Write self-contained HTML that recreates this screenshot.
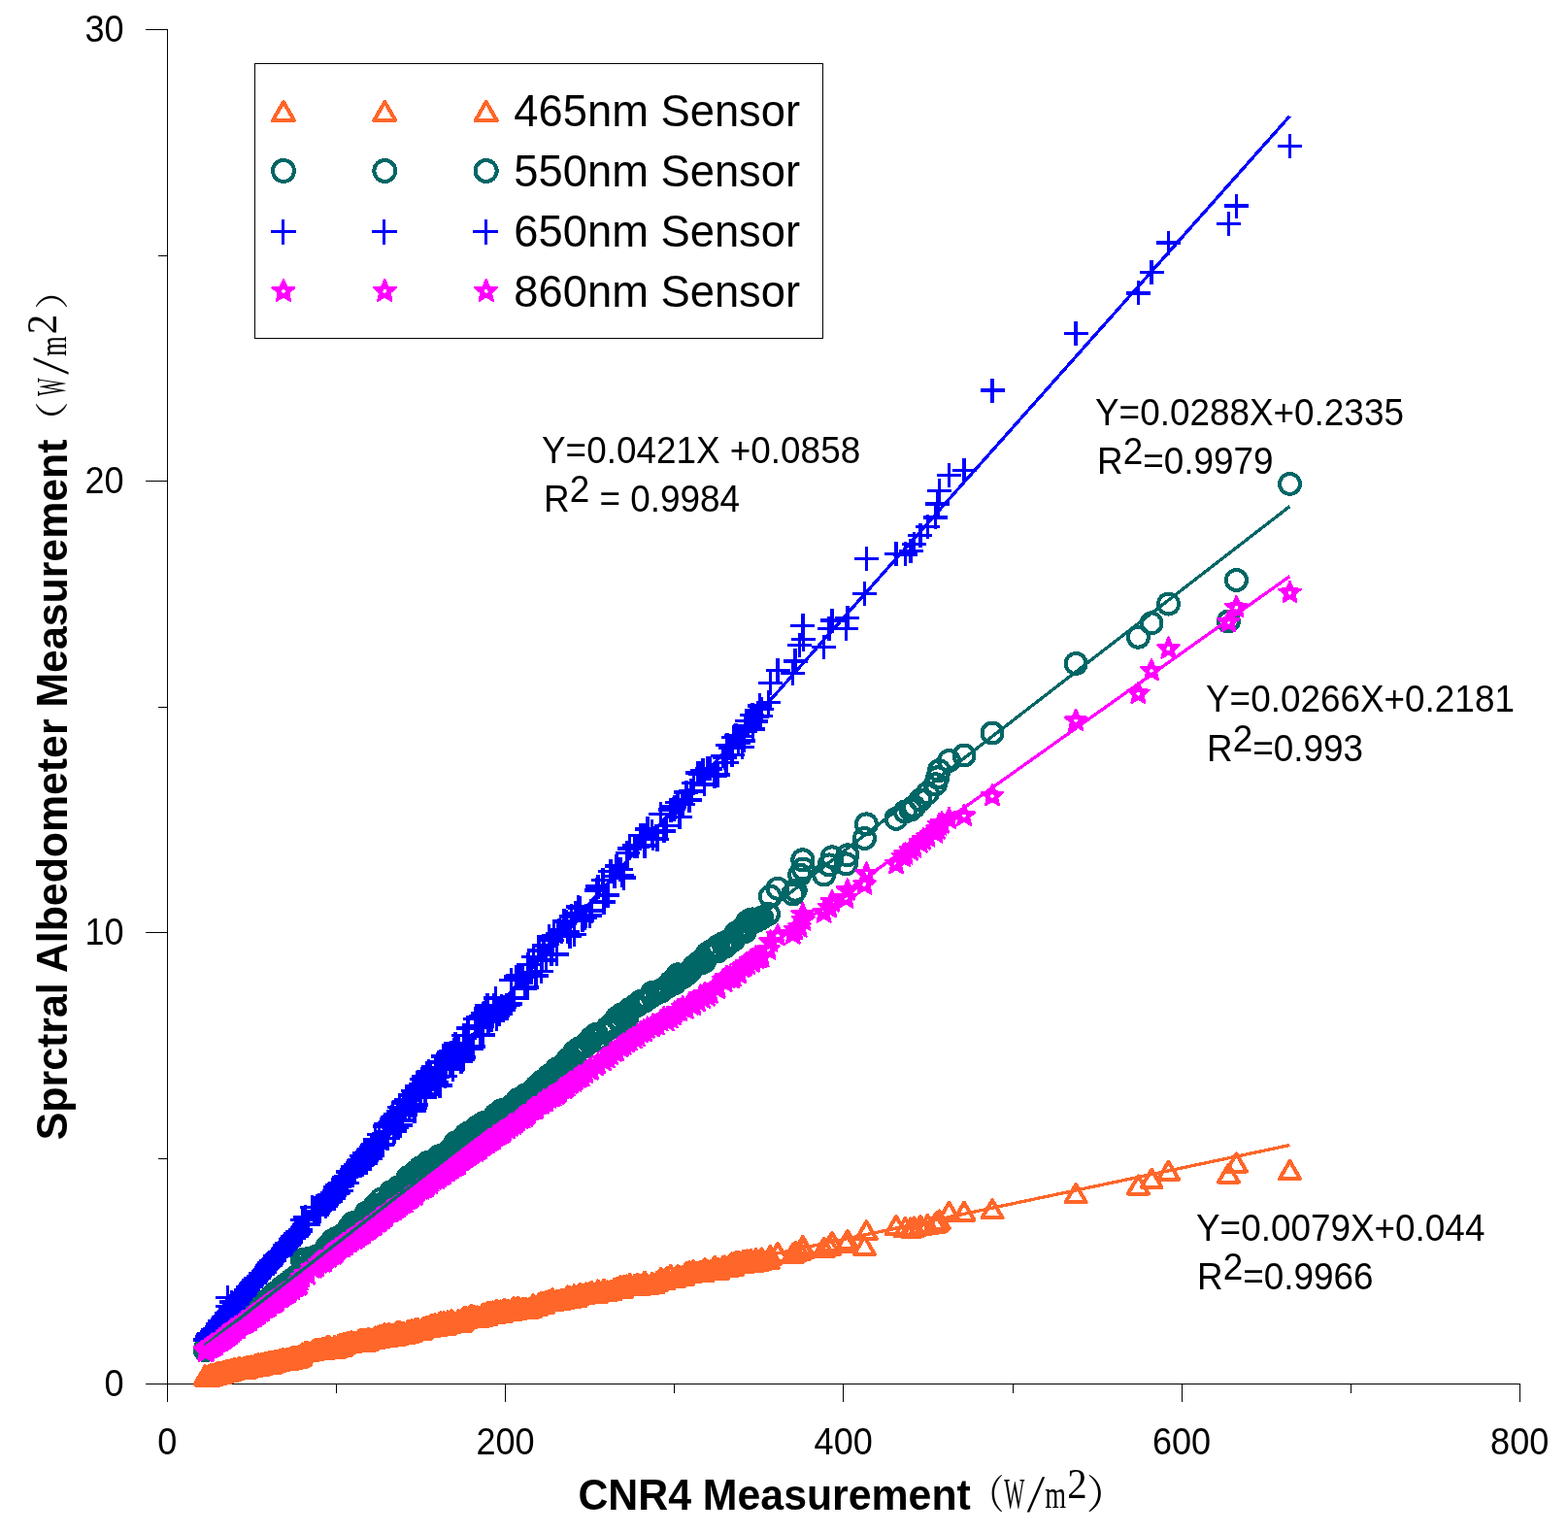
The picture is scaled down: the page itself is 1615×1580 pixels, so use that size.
<!DOCTYPE html>
<html lang="en"><head><meta charset="utf-8"><title>Spectral Albedometer vs CNR4 Measurement</title>
<style>html,body{margin:0;padding:0;background:#fff}svg{display:block}text{font-family:"Liberation Sans",sans-serif;fill:#000}.tk{font-size:37px}.lg{font-size:46px}.eq{font-size:37px}.ti{font-size:43px;font-weight:bold}.un{font-family:"Liberation Serif","Noto Serif CJK SC",serif;font-size:44px;font-weight:normal}.s{fill:none;stroke:none}</style></head><body>
<svg width="1615" height="1580" viewBox="0 0 1615 1580">
<defs>
<marker id="mo" shape-rendering="crispEdges" markerUnits="userSpaceOnUse" markerWidth="30" markerHeight="30" viewBox="-15 -15 30 30" refX="0" refY="0" overflow="visible"><path d="M0,-9L10.5,9H-10.5Z" fill="none" stroke="#FF6629" stroke-width="4" stroke-linejoin="round"/></marker>
<marker id="mt" shape-rendering="crispEdges" markerUnits="userSpaceOnUse" markerWidth="30" markerHeight="30" viewBox="-15 -15 30 30" refX="0" refY="0" overflow="visible"><circle r="10.5" fill="none" stroke="#006666" stroke-width="4"/></marker>
<marker id="mb" shape-rendering="crispEdges" markerUnits="userSpaceOnUse" markerWidth="30" markerHeight="30" viewBox="-15 -15 30 30" refX="0" refY="0" overflow="visible"><path d="M-12.5,0H12.5M0,-12.5V12.5" fill="none" stroke="#0000FF" stroke-width="3.5"/></marker>
<marker id="mm" shape-rendering="crispEdges" markerUnits="userSpaceOnUse" markerWidth="30" markerHeight="30" viewBox="-15 -15 30 30" refX="0" refY="0" overflow="visible"><g><path d="M0.00,-11.70L3.12,-4.29L11.13,-3.62L5.04,1.64L6.88,9.47L0.00,5.30L-6.88,9.47L-5.04,1.64L-11.13,-3.62L-3.12,-4.29ZM0.00,2.20L-2.09,0.68L-1.29,-1.78L1.29,-1.78L2.09,0.68Z" fill="#FF00FF" fill-rule="evenodd"/><path d="M0.00,-11.70L3.12,-4.29L11.13,-3.62L5.04,1.64L6.88,9.47L0.00,5.30L-6.88,9.47L-5.04,1.64L-11.13,-3.62L-3.12,-4.29Z" fill="none" stroke="#FF00FF" stroke-width="2.3" stroke-linejoin="round"/></g></marker>
</defs>
<rect width="1615" height="1580" fill="#fff"/>
<g stroke="#000" stroke-width="1" fill="none" shape-rendering="crispEdges">
<path d="M172.5 30 V1444"/>
<path d="M150 1425.5 H1566"/>
<path d="M172.5 1425 V1444"/>
<path d="M346.5 1425 V1435"/>
<path d="M520.5 1425 V1444"/>
<path d="M694.5 1425 V1435"/>
<path d="M868.5 1425 V1444"/>
<path d="M1043.5 1425 V1435"/>
<path d="M1217.5 1425 V1444"/>
<path d="M1391.5 1425 V1435"/>
<path d="M1565.5 1425 V1444"/>
<path d="M150 1425.5 H173"/>
<path d="M163 1193.5 H173"/>
<path d="M150 960.5 H173"/>
<path d="M163 728.5 H173"/>
<path d="M150 495.5 H173"/>
<path d="M163 263.5 H173"/>
<path d="M150 30.5 H173"/>
</g>
<g shape-rendering="crispEdges">
<polyline class="s" marker-start="url(#mo)" marker-mid="url(#mo)" marker-end="url(#mo)" points="211.3,1416.3 211.7,1417.5 213.0,1418.1 213.3,1417.1 214.1,1418.2 214.7,1417.8 215.7,1416.0 216.1,1417.6 216.8,1415.3 217.7,1415.3 218.5,1415.4 219.0,1416.6 219.9,1416.4 220.5,1415.2 221.7,1415.0 221.7,1414.5 223.1,1415.1 223.4,1415.5 224.2,1413.2 224.6,1413.4 225.8,1414.6 226.1,1414.9 226.9,1412.7 227.4,1414.1 228.3,1414.5 229.5,1414.0 230.2,1411.6 230.8,1413.3 230.9,1411.8 232.3,1413.0 233.0,1411.0 233.6,1411.2 233.9,1412.9 234.6,1412.8 235.5,1411.3 236.6,1411.7 237.1,1412.3 237.9,1410.4 238.2,1411.7 239.1,1411.3 240.0,1410.8 240.8,1409.4 241.5,1409.2 241.8,1409.4 243.0,1410.2 243.2,1409.9 244.3,1409.7 244.9,1410.3 245.3,1409.8 246.3,1408.4 247.0,1408.1 248.0,1408.7 248.1,1409.9 248.9,1410.0 250.2,1409.3 250.8,1409.5 251.0,1409.5 251.8,1407.7 252.7,1408.8 253.1,1409.6 254.0,1408.8 254.5,1407.1 255.7,1407.2 255.9,1407.9 257.3,1408.1 258.0,1407.4 258.6,1406.4 259.3,1407.6 259.7,1408.0 260.6,1407.3 261.4,1407.4 261.9,1406.9 262.3,1406.9 263.4,1405.2 263.9,1405.3 264.9,1405.4 265.4,1406.9 266.5,1404.3 266.7,1406.7 267.8,1405.2 268.5,1406.4 269.1,1404.3 269.5,1404.5 270.2,1403.9 271.5,1403.8 271.7,1403.8 272.4,1403.8 273.2,1403.4 274.1,1403.5 274.8,1403.8 275.1,1403.8 275.8,1403.7 276.9,1402.4 277.4,1402.3 278.4,1402.5 279.2,1402.8 279.4,1404.5 280.4,1402.2 281.1,1402.7 282.1,1403.2 282.9,1401.8 283.2,1401.2 283.8,1402.8 285.0,1401.3 285.1,1400.7 286.0,1401.0 286.8,1402.3 287.3,1400.9 288.4,1400.2 289.0,1399.7 289.5,1400.3 290.4,1401.1 291.3,1399.3 291.7,1399.0 292.2,1400.7 293.2,1401.2 293.8,1401.0 294.8,1400.3 295.2,1400.5 295.9,1398.9 297.1,1400.5 297.4,1400.6 298.1,1398.5 299.0,1398.7 299.8,1400.1 300.5,1399.4 301.3,1397.4 301.6,1399.0 302.5,1397.5 303.1,1398.1 304.0,1396.9 304.7,1396.6 305.5,1397.8 305.8,1398.6 306.7,1396.6 307.7,1398.0 307.9,1396.4 309.1,1396.5 309.8,1396.6 311.3,1393.5 314.6,1392.2 317.1,1392.2 321.7,1391.2 324.1,1389.5 326.5,1389.2 328.9,1388.7 332.3,1388.2 333.9,1389.8 334.7,1387.9 335.6,1387.8 336.9,1386.7 337.0,1386.2 338.6,1388.7 339.2,1386.4 340.4,1389.0 341.2,1387.8 342.3,1387.7 343.9,1389.0 344.7,1385.8 345.8,1388.1 346.1,1388.3 347.3,1387.6 348.8,1385.0 349.0,1385.3 350.2,1384.0 351.1,1387.1 352.8,1386.0 353.2,1383.7 354.4,1383.3 355.0,1384.3 356.1,1383.1 357.5,1382.4 358.8,1381.8 359.3,1382.8 360.3,1382.7 361.0,1382.9 362.1,1381.0 363.1,1382.4 364.2,1382.3 365.6,1382.2 366.4,1381.7 368.0,1382.2 368.3,1382.2 369.9,1381.2 370.1,1379.5 371.5,1378.8 372.5,1381.7 373.7,1379.5 374.4,1378.7 375.5,1381.6 376.8,1378.6 377.2,1380.1 378.5,1380.8 379.6,1377.7 380.8,1379.4 381.2,1379.4 382.4,1378.8 383.0,1378.6 384.7,1379.2 385.9,1377.0 386.4,1376.4 387.8,1377.1 388.7,1376.3 389.0,1376.1 390.5,1377.9 391.0,1375.2 392.3,1374.9 393.8,1376.8 394.1,1376.4 395.6,1376.3 396.1,1373.2 397.1,1376.2 399.0,1376.6 399.1,1375.8 400.2,1372.6 401.9,1376.3 402.3,1375.0 403.2,1373.8 404.1,1376.1 405.5,1375.9 406.1,1373.7 407.2,1375.5 408.2,1372.1 409.7,1371.1 410.2,1374.7 411.6,1370.7 412.2,1373.8 414.0,1372.6 415.0,1371.8 415.9,1374.1 416.9,1373.5 417.6,1372.6 418.9,1373.3 419.6,1373.3 420.2,1370.0 421.7,1369.9 422.8,1370.4 423.0,1372.1 424.2,1369.3 425.8,1369.6 426.8,1369.5 427.6,1368.4 428.1,1367.7 429.3,1367.7 430.3,1368.0 432.6,1369.8 432.9,1369.9 434.5,1368.9 436.2,1367.1 437.5,1366.8 438.7,1366.3 440.1,1367.1 441.7,1365.8 443.1,1366.7 443.4,1364.5 444.6,1364.0 447.1,1364.0 448.4,1363.3 449.0,1366.4 450.4,1365.3 452.1,1364.9 453.1,1361.5 454.0,1361.4 455.5,1362.8 456.9,1361.0 458.5,1364.2 459.3,1364.5 461.4,1360.3 463.0,1363.4 463.6,1361.4 465.2,1359.1 466.6,1361.4 468.1,1361.8 469.2,1361.9 470.4,1361.8 472.0,1359.4 472.4,1361.7 474.9,1361.8 476.2,1359.8 477.2,1356.6 477.9,1356.2 479.8,1356.0 480.3,1357.9 482.1,1357.0 483.2,1356.2 485.0,1354.2 485.9,1354.0 487.0,1354.7 489.3,1355.2 489.9,1356.3 491.6,1355.3 492.2,1357.1 494.3,1355.7 495.9,1356.1 497.2,1353.3 497.9,1354.5 499.0,1352.5 501.0,1354.8 501.9,1351.3 503.2,1351.4 504.4,1351.1 506.0,1351.3 507.7,1350.5 508.6,1353.4 510.3,1349.6 511.7,1348.7 513.1,1351.4 514.1,1350.6 516.0,1349.5 516.7,1351.8 518.1,1348.8 519.5,1348.0 521.9,1350.1 523.4,1349.1 525.8,1349.7 526.3,1350.0 528.8,1346.2 531.4,1348.9 533.5,1345.7 535.7,1347.4 536.5,1347.9 538.6,1346.7 540.8,1347.0 542.8,1347.4 544.2,1347.5 546.8,1346.6 549.3,1343.4 551.5,1345.1 552.5,1345.2 555.2,1342.2 557.5,1341.2 558.3,1341.0 560.0,1342.5 562.3,1339.8 565.4,1339.3 567.8,1339.3 568.8,1337.1 570.6,1339.5 573.3,1339.4 574.6,1339.0 576.1,1338.8 578.5,1338.2 581.2,1337.7 582.9,1337.2 584.7,1334.5 586.8,1334.9 588.3,1336.5 591.5,1333.3 592.7,1336.4 595.4,1333.8 597.1,1331.9 599.8,1332.7 602.4,1332.6 603.4,1331.4 607.4,1330.7 609.1,1329.7 614.4,1332.0 615.9,1328.5 621.1,1330.4 621.9,1327.6 625.8,1329.5 628.8,1329.2 632.8,1327.0 635.1,1326.3 639.0,1323.9 640.4,1326.7 642.7,1323.6 646.0,1323.5 648.6,1322.1 653.7,1322.9 656.6,1322.0 659.9,1323.5 663.0,1321.0 664.0,1319.7 666.9,1323.0 671.7,1320.8 672.7,1322.3 676.8,1319.7 680.6,1316.0 683.8,1318.3 686.7,1315.2 690.8,1313.0 693.9,1316.0 694.9,1315.7 697.9,1313.0 700.1,1314.3 703.2,1314.0 706.9,1310.0 710.2,1309.4 711.9,1310.7 714.3,1308.2 718.8,1309.7 721.6,1309.2 723.9,1310.4 725.7,1306.2 728.7,1307.8 731.7,1308.2 736.1,1303.8 739.2,1307.9 739.5,1306.0 744.8,1303.8 746.6,1303.5 748.2,1304.8 749.0,1304.8 752.1,1301.8 753.6,1300.4 754.2,1304.3 755.8,1300.5 758.2,1299.2 760.3,1299.0 761.1,1299.1 764.5,1301.4 765.8,1297.7 767.3,1298.8 769.1,1297.5 770.1,1299.5 773.1,1296.7 774.8,1299.5 775.3,1299.9 778.5,1296.1 779.5,1299.4 782.3,1297.8 783.0,1297.8 784.6,1295.5 791.4,1297.0 793.4,1293.0 801.0,1290.0 816.7,1291.0 819.2,1289.0 823.6,1288.0 827.3,1286.0 826.8,1283.0 848.6,1285.0 854.2,1283.0 857.0,1279.0 871.4,1280.0 872.9,1277.0 890.4,1282.9 892.4,1267.3 923.0,1262.0 932.4,1264.0 938.0,1264.5 941.5,1263.5 947.9,1262.0 955.4,1261.0 963.5,1259.5 965.8,1258.0 967.3,1256.5 977.5,1247.7 993.0,1247.7 1022.0,1245.3 1108.1,1229.2 1172.4,1220.5 1186.0,1213.8 1203.5,1205.6 1265.4,1208.6 1273.4,1197.5 1328.5,1205.0"/>
<polyline class="s" marker-start="url(#mt)" marker-mid="url(#mt)" marker-end="url(#mt)" points="211.3,1390.8 211.7,1388.7 213.0,1389.3 213.3,1388.9 214.1,1387.6 214.7,1388.1 215.7,1387.2 216.1,1386.3 216.8,1385.8 217.7,1385.0 218.5,1384.2 219.0,1382.8 219.9,1384.0 220.5,1383.6 221.7,1382.3 221.7,1381.5 223.1,1381.3 223.4,1380.6 224.2,1380.6 224.6,1380.0 225.8,1378.3 226.1,1377.1 226.9,1378.2 227.4,1376.7 228.3,1375.5 229.5,1376.5 230.2,1375.5 230.8,1375.0 230.9,1374.5 232.3,1373.4 233.0,1372.8 233.6,1371.4 233.9,1372.9 234.6,1372.1 235.5,1370.2 236.6,1370.8 237.1,1370.5 237.9,1369.8 238.2,1367.9 239.1,1367.3 240.0,1367.3 240.8,1367.2 241.5,1367.1 241.8,1366.8 243.0,1365.4 243.2,1365.8 244.3,1364.9 244.9,1363.2 245.3,1364.0 246.3,1362.2 247.0,1360.6 248.0,1360.8 248.1,1360.2 248.9,1361.2 250.2,1359.2 250.8,1359.7 251.0,1359.3 251.8,1357.4 252.7,1357.6 253.1,1357.9 254.0,1356.6 254.5,1356.9 255.7,1354.3 255.9,1355.6 257.3,1354.3 258.0,1353.2 258.6,1352.7 259.3,1352.1 259.7,1350.4 260.6,1350.2 261.4,1349.5 261.9,1350.6 262.3,1350.0 263.4,1348.6 263.9,1347.7 264.9,1348.6 265.4,1347.0 266.5,1347.4 266.7,1347.3 267.8,1346.0 268.5,1343.7 269.1,1344.3 269.5,1343.3 270.2,1344.0 271.5,1342.6 271.7,1343.4 272.4,1342.7 273.2,1340.9 274.1,1341.4 274.8,1339.7 275.1,1339.5 275.8,1340.0 276.9,1338.5 277.4,1338.2 278.4,1336.8 279.2,1337.3 279.4,1337.3 280.4,1336.2 281.1,1335.0 282.1,1335.2 282.9,1334.7 283.2,1331.7 283.8,1333.9 285.0,1331.1 285.1,1332.4 286.0,1331.1 286.8,1329.7 287.3,1331.1 288.4,1329.3 289.0,1329.3 289.5,1327.3 290.4,1326.1 291.3,1326.7 291.7,1325.0 292.2,1324.9 293.2,1325.2 293.8,1324.0 294.8,1322.7 295.2,1323.1 295.9,1324.4 297.1,1322.5 297.4,1322.2 298.1,1322.1 299.0,1321.8 299.8,1321.1 300.5,1318.1 301.3,1318.8 301.6,1317.7 302.5,1319.2 303.1,1318.7 304.0,1318.0 304.7,1317.3 305.5,1315.7 305.8,1314.5 306.7,1315.5 307.7,1313.0 307.9,1312.9 309.1,1313.8 309.8,1311.6 311.3,1297.5 314.6,1298.9 317.1,1296.5 321.7,1296.9 324.1,1294.7 326.5,1294.5 328.9,1292.9 332.3,1291.9 333.9,1288.8 334.7,1290.6 335.6,1287.0 336.9,1284.3 337.0,1287.0 338.6,1282.4 339.2,1284.6 340.4,1285.1 341.2,1284.9 342.3,1278.0 343.9,1279.3 344.7,1279.2 345.8,1279.6 346.1,1275.5 347.3,1276.8 348.8,1278.7 349.0,1276.9 350.2,1274.4 351.1,1274.0 352.8,1272.9 353.2,1273.8 354.4,1271.0 355.0,1270.6 356.1,1269.9 357.5,1268.5 358.8,1269.9 359.3,1266.5 360.3,1263.6 361.0,1263.4 362.1,1263.9 363.1,1259.8 364.2,1264.3 365.6,1264.4 366.4,1261.4 368.0,1259.1 368.3,1260.8 369.9,1261.4 370.1,1260.2 371.5,1258.2 372.5,1258.5 373.7,1258.1 374.4,1255.5 375.5,1253.3 376.8,1254.2 377.2,1249.2 378.5,1249.4 379.6,1252.2 380.8,1250.5 381.2,1247.3 382.4,1250.6 383.0,1247.7 384.7,1246.3 385.9,1249.1 386.4,1241.4 387.8,1244.0 388.7,1246.2 389.0,1242.3 390.5,1242.6 391.0,1241.8 392.3,1235.3 393.8,1243.1 394.1,1242.6 395.6,1241.2 396.1,1239.6 397.1,1238.0 399.0,1238.8 399.1,1238.9 400.2,1236.1 401.9,1237.1 402.3,1228.0 403.2,1234.7 404.1,1231.8 405.5,1229.6 406.1,1231.0 407.2,1228.0 408.2,1232.1 409.7,1223.0 410.2,1223.0 411.6,1224.6 412.2,1227.8 414.0,1224.8 415.0,1224.1 415.9,1221.0 416.9,1221.4 417.6,1219.3 418.9,1222.0 419.6,1222.9 420.2,1212.6 421.7,1212.5 422.8,1219.0 423.0,1211.3 424.2,1217.2 425.8,1213.8 426.8,1212.9 427.6,1207.1 428.1,1215.5 429.3,1215.5 430.3,1214.2 432.6,1202.9 432.9,1208.2 434.5,1202.1 436.2,1209.9 437.5,1202.2 438.7,1203.3 440.1,1197.6 441.7,1203.5 443.1,1204.0 443.4,1204.4 444.6,1202.5 447.1,1197.0 448.4,1198.8 449.0,1199.4 450.4,1198.5 452.1,1190.8 453.1,1195.6 454.0,1195.9 455.5,1191.1 456.9,1193.4 458.5,1191.0 459.3,1188.2 461.4,1186.7 463.0,1184.7 463.6,1185.2 465.2,1184.9 466.6,1185.6 468.1,1182.9 469.2,1176.9 470.4,1180.3 472.0,1182.8 472.4,1180.1 474.9,1176.5 476.2,1178.8 477.2,1178.2 477.9,1171.3 479.8,1168.7 480.3,1175.2 482.1,1170.3 483.2,1166.6 485.0,1170.3 485.9,1171.7 487.0,1170.1 489.3,1167.7 489.9,1169.0 491.6,1160.5 492.2,1163.4 494.3,1161.8 495.9,1158.6 497.2,1161.2 497.9,1156.7 499.0,1162.0 501.0,1157.3 501.9,1157.2 503.2,1155.8 504.4,1156.8 506.0,1154.2 507.7,1155.4 508.6,1152.3 510.3,1148.4 511.7,1151.7 513.1,1148.4 514.1,1150.1 516.0,1146.3 516.7,1143.7 518.1,1146.3 519.5,1146.0 521.9,1142.3 523.4,1143.0 525.8,1139.9 526.3,1139.4 528.8,1137.7 531.4,1136.4 533.5,1132.4 535.7,1133.3 536.5,1132.1 538.6,1130.2 540.8,1127.9 542.8,1128.4 544.2,1126.8 546.8,1125.5 549.3,1122.8 551.5,1121.5 552.5,1119.1 555.2,1117.1 557.5,1116.6 558.3,1113.6 560.0,1114.7 562.3,1113.1 565.4,1108.0 567.8,1107.8 568.8,1106.0 570.6,1104.2 573.3,1101.1 574.6,1103.1 576.1,1101.8 578.5,1098.1 581.2,1096.2 582.9,1097.1 584.7,1091.2 586.8,1092.4 588.3,1090.1 591.5,1083.7 592.7,1086.5 595.4,1080.6 597.1,1079.5 599.8,1078.9 602.4,1077.8 603.4,1075.9 607.4,1073.5 609.1,1069.3 614.4,1065.1 615.9,1070.5 621.1,1063.4 621.9,1062.6 625.8,1058.7 628.8,1056.2 632.8,1057.5 635.1,1048.5 639.0,1052.8 640.4,1044.9 642.7,1047.2 646.0,1047.6 648.6,1039.4 653.7,1036.0 656.6,1035.4 659.9,1031.4 663.0,1031.5 664.0,1031.1 666.9,1028.8 671.7,1022.4 672.7,1025.0 676.8,1021.7 680.6,1021.3 683.8,1018.6 686.7,1016.9 690.8,1011.8 693.9,1010.7 694.9,1012.7 697.9,1003.8 700.1,1004.2 703.2,1006.7 706.9,1003.8 710.2,1000.9 711.9,998.9 714.3,996.0 718.8,991.9 721.6,992.1 723.9,988.1 725.7,990.2 728.7,981.9 731.7,980.2 736.1,979.5 739.2,979.8 739.5,974.8 744.8,971.7 746.6,975.1 748.2,973.7 749.0,970.1 752.1,968.5 753.6,968.3 754.2,968.3 755.8,968.1 758.2,960.9 760.3,962.3 761.1,961.8 764.5,958.8 765.8,955.5 767.3,959.5 769.1,954.2 770.1,949.1 773.1,947.3 774.8,946.9 775.3,949.9 778.5,948.5 779.5,948.1 782.3,946.7 783.0,946.5 784.6,945.2 791.4,941.5 793.4,923.3 801.0,915.2 816.7,921.0 819.2,917.2 823.6,901.0 827.3,895.0 826.8,885.8 848.6,901.0 854.2,890.9 857.0,882.8 871.4,889.9 872.9,880.8 890.4,863.5 892.4,848.9 923.0,843.3 932.4,836.0 938.0,834.0 941.5,831.0 947.9,824.0 955.4,817.0 963.5,807.8 965.8,800.8 967.3,793.7 977.5,783.5 993.0,778.0 1022.0,755.0 1108.1,683.5 1172.4,656.2 1186.0,641.8 1203.5,622.0 1265.4,640.0 1273.4,597.5 1328.5,498.5"/>
<polyline class="s" marker-start="url(#mb)" marker-mid="url(#mb)" marker-end="url(#mb)" points="211.3,1379.3 211.7,1380.1 213.0,1377.2 213.3,1378.5 214.1,1376.9 214.7,1375.2 215.7,1374.1 216.1,1374.2 216.8,1373.8 217.7,1373.6 218.5,1372.0 219.0,1370.4 219.9,1369.5 220.5,1370.3 221.7,1368.5 221.7,1368.5 223.1,1367.1 223.4,1366.4 224.2,1366.1 224.6,1364.2 225.8,1363.9 226.1,1363.6 226.9,1360.9 227.4,1360.8 228.3,1360.9 229.5,1359.1 230.2,1358.5 230.8,1357.9 230.9,1357.0 232.3,1355.8 233.0,1355.2 233.6,1355.0 233.9,1352.7 234.6,1353.8 235.5,1351.4 236.6,1350.6 237.1,1349.2 237.9,1349.7 238.2,1349.6 239.1,1348.4 240.0,1346.5 240.8,1345.7 241.5,1343.5 241.8,1342.9 243.0,1343.2 243.2,1341.5 244.3,1342.1 244.9,1339.7 245.3,1339.4 246.3,1337.9 247.0,1338.1 248.0,1335.6 248.1,1335.6 248.9,1335.2 250.2,1333.6 250.8,1332.6 251.0,1333.9 251.8,1331.7 252.7,1332.0 253.1,1329.2 254.0,1328.5 254.5,1328.4 255.7,1328.7 255.9,1325.6 257.3,1324.4 258.0,1325.7 258.6,1322.8 259.3,1322.0 259.7,1323.0 260.6,1320.3 261.4,1319.0 261.9,1319.0 262.3,1321.0 263.4,1317.0 263.9,1318.9 264.9,1317.4 265.4,1316.4 266.5,1315.9 266.7,1315.8 267.8,1314.7 268.5,1311.5 269.1,1311.7 269.5,1312.6 270.2,1312.3 271.5,1309.9 271.7,1310.0 272.4,1309.9 273.2,1307.6 274.1,1305.5 274.8,1306.6 275.1,1303.5 275.8,1305.1 276.9,1302.4 277.4,1300.9 278.4,1303.0 279.2,1301.5 279.4,1299.0 280.4,1299.7 281.1,1297.8 282.1,1298.6 282.9,1296.8 283.2,1294.7 283.8,1293.9 285.0,1293.4 285.1,1292.3 286.0,1291.6 286.8,1293.6 287.3,1290.3 288.4,1292.0 289.0,1291.0 289.5,1290.4 290.4,1288.6 291.3,1288.6 291.7,1286.5 292.2,1285.6 293.2,1286.6 293.8,1282.7 294.8,1283.1 295.2,1281.7 295.9,1280.3 297.1,1281.8 297.4,1280.3 298.1,1280.1 299.0,1277.2 299.8,1278.9 300.5,1275.6 301.3,1274.5 301.6,1274.2 302.5,1275.2 303.1,1272.7 304.0,1271.7 304.7,1270.5 305.5,1273.4 305.8,1272.1 306.7,1268.8 307.7,1268.4 307.9,1269.9 309.1,1266.9 309.8,1268.7 311.3,1256.3 314.6,1253.5 317.1,1260.9 321.7,1243.3 324.1,1248.2 326.5,1249.1 328.9,1247.3 332.3,1240.5 333.9,1237.0 334.7,1234.1 335.6,1242.7 336.9,1240.6 337.0,1231.6 338.6,1238.6 339.2,1230.5 340.4,1235.7 341.2,1234.3 342.3,1229.1 343.9,1234.0 344.7,1230.8 345.8,1222.5 346.1,1227.9 347.3,1229.3 348.8,1227.8 349.0,1222.6 350.2,1218.3 351.1,1226.3 352.8,1221.2 353.2,1215.0 354.4,1213.1 355.0,1218.6 356.1,1212.1 357.5,1218.6 358.8,1206.8 359.3,1207.7 360.3,1208.4 361.0,1207.3 362.1,1205.2 363.1,1202.1 364.2,1203.2 365.6,1207.7 366.4,1199.7 368.0,1197.4 368.3,1198.6 369.9,1200.4 370.1,1194.5 371.5,1200.6 372.5,1190.7 373.7,1199.6 374.4,1192.7 375.5,1187.4 376.8,1197.8 377.2,1195.1 378.5,1189.4 379.6,1184.5 380.8,1186.1 381.2,1193.7 382.4,1181.4 383.0,1189.0 384.7,1178.6 385.9,1181.8 386.4,1173.4 387.8,1176.3 388.7,1179.0 389.0,1179.4 390.5,1168.3 391.0,1179.7 392.3,1178.9 393.8,1179.1 394.1,1178.5 395.6,1167.7 396.1,1160.0 397.1,1158.1 399.0,1165.5 399.1,1172.6 400.2,1158.0 401.9,1156.4 402.3,1156.1 403.2,1153.1 404.1,1150.6 405.5,1161.4 406.1,1165.1 407.2,1160.3 408.2,1161.7 409.7,1148.2 410.2,1144.9 411.6,1140.5 412.2,1159.1 414.0,1154.2 415.0,1143.5 415.9,1136.1 416.9,1134.4 417.6,1140.5 418.9,1132.9 419.6,1132.5 420.2,1132.7 421.7,1143.6 422.8,1127.8 423.0,1127.7 424.2,1138.8 425.8,1123.7 426.8,1144.3 427.6,1141.2 428.1,1137.9 429.3,1118.6 430.3,1118.4 432.6,1119.9 432.9,1123.2 434.5,1111.7 436.2,1109.1 437.5,1130.4 438.7,1126.8 440.1,1105.2 441.7,1103.3 443.1,1104.2 443.4,1106.2 444.6,1110.0 447.1,1111.9 448.4,1100.1 449.0,1114.7 450.4,1109.6 452.1,1094.7 453.1,1118.2 454.0,1093.6 455.5,1101.0 456.9,1087.9 458.5,1108.5 459.3,1098.7 461.4,1085.6 463.0,1085.3 463.6,1097.0 465.2,1084.6 466.6,1101.1 468.1,1081.5 469.2,1075.0 470.4,1079.0 472.0,1087.5 472.4,1077.4 474.9,1093.2 476.2,1091.6 477.2,1089.0 477.9,1066.6 479.8,1078.9 480.3,1078.8 482.1,1058.8 483.2,1080.6 485.0,1080.4 485.9,1078.7 487.0,1078.1 489.3,1058.1 489.9,1049.5 491.6,1056.6 492.2,1048.3 494.3,1066.6 495.9,1046.3 497.2,1065.8 497.9,1044.2 499.0,1043.7 501.0,1042.6 501.9,1035.5 503.2,1052.0 504.4,1048.1 506.0,1050.3 507.7,1046.8 508.6,1035.6 510.3,1028.2 511.7,1049.2 513.1,1041.5 514.1,1044.1 516.0,1039.0 516.7,1036.9 518.1,1040.4 519.5,1037.1 521.9,1035.1 523.4,1035.4 525.8,1033.9 526.3,1009.5 528.8,1028.1 531.4,1006.1 533.5,1005.0 535.7,1004.3 536.5,1006.9 538.6,1006.3 540.8,1017.9 542.8,1017.2 544.2,993.6 546.8,1001.5 549.3,985.4 551.5,1005.3 552.5,1005.2 555.2,978.8 557.5,1000.4 558.3,988.3 560.0,974.2 562.3,988.8 565.4,964.9 567.8,982.8 568.8,968.6 570.6,963.3 573.3,982.8 574.6,961.4 576.1,958.2 578.5,959.7 581.2,948.9 582.9,949.4 584.7,959.8 586.8,964.6 588.3,943.8 591.5,962.3 592.7,940.8 595.4,934.0 597.1,935.7 599.8,947.8 602.4,945.7 603.4,943.3 607.4,943.2 609.1,938.2 614.4,916.9 615.9,913.1 621.1,906.6 621.9,929.0 625.8,922.1 628.8,897.6 632.8,902.4 635.1,892.2 639.0,895.5 640.4,901.9 642.7,904.0 646.0,878.5 648.6,873.8 653.7,871.2 656.6,871.8 659.9,860.7 663.0,860.5 664.0,871.0 666.9,853.9 671.7,856.8 672.7,863.4 676.8,864.4 680.6,838.4 683.8,855.8 686.7,850.6 690.8,834.0 693.9,833.5 694.9,831.0 697.9,826.6 700.1,841.3 703.2,828.5 706.9,816.0 710.2,824.0 711.9,814.8 714.3,806.6 718.8,796.2 721.6,796.8 723.9,793.7 725.7,807.8 728.7,791.6 731.7,791.8 736.1,799.3 739.2,798.0 739.5,798.3 744.8,778.3 746.6,780.3 748.2,785.5 749.0,767.6 752.1,770.2 753.6,769.9 754.2,777.5 755.8,759.6 758.2,757.5 760.3,765.6 761.1,758.6 764.5,769.3 765.8,762.8 767.3,747.4 769.1,742.5 770.1,747.7 773.1,742.4 774.8,736.5 775.3,750.9 778.5,742.9 779.5,737.8 782.3,726.8 783.0,737.4 784.6,730.5 234.3,1336.7 238.7,1341.1 234.3,1345.6 791.4,723.3 793.4,703.5 801.0,690.4 816.7,693.4 819.2,680.8 823.6,664.6 827.3,658.5 826.8,644.3 848.6,666.6 854.2,647.3 857.0,639.2 871.4,647.3 872.9,636.5 890.4,611.6 892.4,575.4 923.0,570.4 932.4,570.9 938.0,567.3 941.5,560.6 947.9,551.4 955.4,542.5 963.5,532.9 965.8,519.2 967.3,505.6 977.5,489.4 993.0,484.3 1022.0,402.0 1108.1,343.3 1172.4,301.8 1186.0,280.5 1203.5,250.1 1265.4,230.6 1273.4,212.2 1328.5,150.5"/>
<polyline class="s" marker-start="url(#mm)" marker-mid="url(#mm)" marker-end="url(#mm)" points="211.3,1391.0 211.7,1392.4 213.0,1391.6 213.3,1391.6 214.1,1388.4 214.7,1388.4 215.7,1387.9 216.1,1388.7 216.8,1386.9 217.7,1387.7 218.5,1384.9 219.0,1386.8 219.9,1386.6 220.5,1385.7 221.7,1385.7 221.7,1385.4 223.1,1383.0 223.4,1382.4 224.2,1382.1 224.6,1381.6 225.8,1380.7 226.1,1381.0 226.9,1381.9 227.4,1381.0 228.3,1380.5 229.5,1378.4 230.2,1379.8 230.8,1379.2 230.9,1377.3 232.3,1376.6 233.0,1377.1 233.6,1376.8 233.9,1375.2 234.6,1376.1 235.5,1373.8 236.6,1374.6 237.1,1372.0 237.9,1371.8 238.2,1372.9 239.1,1372.6 240.0,1370.2 240.8,1370.9 241.5,1370.0 241.8,1368.1 243.0,1368.5 243.2,1367.3 244.3,1367.9 244.9,1368.3 245.3,1367.1 246.3,1365.1 247.0,1364.5 248.0,1364.4 248.1,1364.3 248.9,1363.0 250.2,1362.1 250.8,1363.2 251.0,1363.6 251.8,1361.5 252.7,1362.5 253.1,1361.8 254.0,1361.4 254.5,1360.8 255.7,1360.0 255.9,1360.0 257.3,1360.1 258.0,1357.0 258.6,1356.5 259.3,1357.7 259.7,1355.9 260.6,1356.3 261.4,1354.6 261.9,1356.3 262.3,1355.6 263.4,1354.8 263.9,1354.5 264.9,1353.2 265.4,1353.3 266.5,1353.0 266.7,1350.8 267.8,1350.1 268.5,1351.2 269.1,1349.2 269.5,1348.5 270.2,1350.3 271.5,1347.8 271.7,1346.8 272.4,1347.8 273.2,1345.5 274.1,1347.0 274.8,1346.7 275.1,1346.0 275.8,1343.9 276.9,1345.4 277.4,1344.3 278.4,1342.1 279.2,1341.9 279.4,1342.9 280.4,1342.1 281.1,1342.4 282.1,1339.6 282.9,1341.7 283.2,1341.7 283.8,1341.2 285.0,1339.5 285.1,1339.9 286.0,1336.7 286.8,1336.7 287.3,1336.1 288.4,1334.9 289.0,1336.2 289.5,1334.7 290.4,1335.4 291.3,1334.8 291.7,1333.4 292.2,1332.5 293.2,1333.1 293.8,1333.0 294.8,1332.9 295.2,1331.2 295.9,1331.1 297.1,1331.2 297.4,1328.4 298.1,1329.4 299.0,1327.3 299.8,1326.9 300.5,1327.4 301.3,1328.6 301.6,1325.8 302.5,1325.1 303.1,1324.7 304.0,1325.7 304.7,1324.2 305.5,1324.3 305.8,1323.4 306.7,1322.7 307.7,1323.9 307.9,1323.9 309.1,1322.9 309.8,1318.9 311.3,1315.4 314.6,1311.7 317.1,1313.0 321.7,1306.1 324.1,1306.0 326.5,1304.8 328.9,1301.0 332.3,1300.0 333.9,1299.5 334.7,1297.0 335.6,1295.6 336.9,1294.0 337.0,1294.0 338.6,1294.9 339.2,1293.1 340.4,1291.7 341.2,1292.5 342.3,1291.9 343.9,1292.1 344.7,1290.8 345.8,1290.2 346.1,1287.4 347.3,1287.7 348.8,1285.7 349.0,1286.0 350.2,1284.3 351.1,1284.9 352.8,1284.5 353.2,1281.6 354.4,1282.3 355.0,1282.7 356.1,1282.6 357.5,1278.8 358.8,1279.8 359.3,1278.3 360.3,1279.2 361.0,1276.8 362.1,1277.4 363.1,1275.9 364.2,1275.8 365.6,1276.4 366.4,1275.4 368.0,1274.2 368.3,1271.4 369.9,1270.5 370.1,1272.9 371.5,1271.0 372.5,1271.4 373.7,1269.9 374.4,1270.1 375.5,1267.2 376.8,1266.3 377.2,1267.6 378.5,1264.4 379.6,1266.4 380.8,1264.9 381.2,1264.0 382.4,1261.6 383.0,1263.1 384.7,1262.6 385.9,1259.6 386.4,1261.5 387.8,1257.7 388.7,1257.0 389.0,1259.0 390.5,1257.9 391.0,1257.2 392.3,1255.8 393.8,1255.4 394.1,1255.0 395.6,1251.9 396.1,1253.7 397.1,1252.4 399.0,1249.0 399.1,1248.6 400.2,1248.1 401.9,1246.8 402.3,1248.8 403.2,1247.4 404.1,1246.6 405.5,1244.9 406.1,1246.2 407.2,1243.7 408.2,1244.3 409.7,1243.0 410.2,1243.3 411.6,1240.5 412.2,1241.1 414.0,1239.4 415.0,1239.4 415.9,1238.0 416.9,1237.3 417.6,1238.5 418.9,1235.8 419.6,1235.5 420.2,1234.9 421.7,1234.0 422.8,1234.0 423.0,1233.0 424.2,1233.0 425.8,1230.6 426.8,1231.4 427.6,1229.2 428.1,1230.5 429.3,1227.7 430.3,1226.8 432.6,1225.1 432.9,1224.8 434.5,1224.9 436.2,1224.0 437.5,1223.2 438.7,1222.5 440.1,1221.0 441.7,1218.6 443.1,1219.4 443.4,1217.6 444.6,1216.7 447.1,1215.0 448.4,1213.9 449.0,1213.7 450.4,1214.7 452.1,1212.7 453.1,1210.5 454.0,1210.7 455.5,1210.3 456.9,1209.3 458.5,1206.8 459.3,1206.1 461.4,1206.8 463.0,1204.6 463.6,1203.3 465.2,1203.9 466.6,1201.6 468.1,1201.9 469.2,1199.6 470.4,1200.4 472.0,1199.3 472.4,1197.4 474.9,1195.5 476.2,1194.4 477.2,1193.3 477.9,1192.7 479.8,1192.1 480.3,1191.1 482.1,1190.8 483.2,1189.6 485.0,1188.5 485.9,1187.4 487.0,1186.4 489.3,1185.4 489.9,1186.3 491.6,1184.4 492.2,1183.0 494.3,1183.1 495.9,1180.7 497.2,1180.5 497.9,1178.8 499.0,1179.0 501.0,1176.7 501.9,1177.5 503.2,1175.1 504.4,1175.4 506.0,1174.5 507.7,1173.3 508.6,1171.3 510.3,1170.5 511.7,1169.4 513.1,1168.4 514.1,1168.8 516.0,1167.4 516.7,1166.3 518.1,1166.4 519.5,1164.6 521.9,1162.4 523.4,1162.3 525.8,1160.1 526.3,1158.4 528.8,1158.3 531.4,1156.4 533.5,1154.8 535.7,1152.1 536.5,1152.6 538.6,1151.8 540.8,1150.3 542.8,1148.1 544.2,1146.6 546.8,1143.9 549.3,1142.2 551.5,1142.5 552.5,1141.4 555.2,1137.9 557.5,1137.1 558.3,1136.4 560.0,1134.2 562.3,1134.2 565.4,1131.0 567.8,1129.6 568.8,1129.8 570.6,1128.8 573.3,1127.3 574.6,1126.0 576.1,1124.4 578.5,1121.6 581.2,1121.1 582.9,1120.2 584.7,1118.5 586.8,1116.2 588.3,1115.2 591.5,1114.2 592.7,1111.9 595.4,1110.0 597.1,1109.1 599.8,1108.6 602.4,1105.0 603.4,1105.2 607.4,1101.8 609.1,1102.0 614.4,1097.9 615.9,1095.9 621.1,1091.8 621.9,1092.6 625.8,1089.9 628.8,1086.3 632.8,1083.2 635.1,1082.8 639.0,1078.5 640.4,1077.6 642.7,1076.3 646.0,1073.8 648.6,1071.6 653.7,1069.5 656.6,1067.4 659.9,1063.5 663.0,1062.1 664.0,1062.6 666.9,1059.2 671.7,1057.4 672.7,1056.2 676.8,1055.8 680.6,1051.7 683.8,1048.9 686.7,1051.5 690.8,1048.9 693.9,1045.9 694.9,1043.2 697.9,1041.1 700.1,1041.2 703.2,1037.9 706.9,1039.2 710.2,1033.8 711.9,1035.0 714.3,1035.4 718.8,1031.5 721.6,1026.2 723.9,1028.2 725.7,1023.9 728.7,1025.9 731.7,1023.0 736.1,1016.7 739.2,1018.3 739.5,1016.8 744.8,1009.5 746.6,1011.4 748.2,1007.0 749.0,1007.2 752.1,1006.2 753.6,1007.8 754.2,1007.6 755.8,1005.6 758.2,1001.1 760.3,1001.2 761.1,1002.6 764.5,996.4 765.8,995.5 767.3,994.8 769.1,992.5 770.1,993.2 773.1,989.9 774.8,991.2 775.3,988.9 778.5,986.2 779.5,987.8 782.3,986.8 783.0,985.4 784.6,985.8 970.0,848.0 951.0,865.0 930.0,882.5 791.4,978.0 793.4,970.0 801.0,963.8 816.7,962.0 819.2,958.0 823.6,955.0 827.3,948.0 826.8,942.0 848.6,940.0 854.2,935.0 857.0,929.0 871.4,925.0 872.9,917.2 890.4,911.0 892.4,900.0 923.0,889.9 932.4,880.0 938.0,876.0 941.5,873.0 947.9,868.0 955.4,862.0 963.5,858.0 965.8,854.0 967.3,850.0 977.5,843.5 993.0,840.3 1022.0,819.7 1108.1,742.3 1172.4,714.4 1186.0,690.9 1203.5,668.1 1265.4,640.8 1273.4,625.7 1328.5,610.5"/>
<line x1="210.3" y1="1415.5" x2="1328.5" y2="1179.5" stroke="#FF6629" stroke-width="3.3"/>
<line x1="210.3" y1="1386.2" x2="1328.5" y2="521.5" stroke="#006666" stroke-width="3.3"/>
<line x1="210.3" y1="1376.7" x2="1328.5" y2="119.5" stroke="#0000FF" stroke-width="3.3"/>
<line x1="210.3" y1="1388.0" x2="1328.5" y2="593.5" stroke="#FF00FF" stroke-width="3.3"/>
</g>
<g class="tk">
<text transform="translate(172.2,1498.2) scale(0.975,1.04)" text-anchor="middle">0</text>
<text transform="translate(520.5,1498.2) scale(0.975,1.04)" text-anchor="middle">200</text>
<text transform="translate(868.7,1498.2) scale(0.975,1.04)" text-anchor="middle">400</text>
<text transform="translate(1217.0,1498.2) scale(0.975,1.04)" text-anchor="middle">600</text>
<text transform="translate(1565.2,1498.2) scale(0.975,1.04)" text-anchor="middle">800</text>
<text transform="translate(127.6,1438.1) scale(0.975,1.04)" text-anchor="end">0</text>
<text transform="translate(127.6,973.1) scale(0.975,1.04)" text-anchor="end">10</text>
<text transform="translate(127.6,508.1) scale(0.975,1.04)" text-anchor="end">20</text>
<text transform="translate(127.6,43.1) scale(0.975,1.04)" text-anchor="end">30</text>
</g>
<rect x="262.5" y="65.5" width="585" height="283" fill="#fff" stroke="#000" stroke-width="1" shape-rendering="crispEdges"/>
<g shape-rendering="crispEdges">
<path transform="translate(292,114.5)" d="M0,-9.5L11,9.5H-11Z" fill="none" stroke="#FF6629" stroke-width="4" stroke-linejoin="round"/>
<circle cx="292" cy="176" r="11" fill="none" stroke="#006666" stroke-width="4"/>
<path transform="translate(291.5,238.5)" d="M-13,0H13M0,-13V13" fill="none" stroke="#0000FF" stroke-width="3"/>
<g transform="translate(292,300)"><g transform="scale(1.02)"><path d="M0.00,-11.70L3.12,-4.29L11.13,-3.62L5.04,1.64L6.88,9.47L0.00,5.30L-6.88,9.47L-5.04,1.64L-11.13,-3.62L-3.12,-4.29ZM0.00,2.20L-2.09,0.68L-1.29,-1.78L1.29,-1.78L2.09,0.68Z" fill="#FF00FF" fill-rule="evenodd"/><path d="M0.00,-11.70L3.12,-4.29L11.13,-3.62L5.04,1.64L6.88,9.47L0.00,5.30L-6.88,9.47L-5.04,1.64L-11.13,-3.62L-3.12,-4.29Z" fill="none" stroke="#FF00FF" stroke-width="2.3" stroke-linejoin="round"/></g></g>
<path transform="translate(396.3,114.5)" d="M0,-9.5L11,9.5H-11Z" fill="none" stroke="#FF6629" stroke-width="4" stroke-linejoin="round"/>
<circle cx="396.3" cy="176" r="11" fill="none" stroke="#006666" stroke-width="4"/>
<path transform="translate(395.8,238.5)" d="M-13,0H13M0,-13V13" fill="none" stroke="#0000FF" stroke-width="3"/>
<g transform="translate(396.3,300)"><g transform="scale(1.02)"><path d="M0.00,-11.70L3.12,-4.29L11.13,-3.62L5.04,1.64L6.88,9.47L0.00,5.30L-6.88,9.47L-5.04,1.64L-11.13,-3.62L-3.12,-4.29ZM0.00,2.20L-2.09,0.68L-1.29,-1.78L1.29,-1.78L2.09,0.68Z" fill="#FF00FF" fill-rule="evenodd"/><path d="M0.00,-11.70L3.12,-4.29L11.13,-3.62L5.04,1.64L6.88,9.47L0.00,5.30L-6.88,9.47L-5.04,1.64L-11.13,-3.62L-3.12,-4.29Z" fill="none" stroke="#FF00FF" stroke-width="2.3" stroke-linejoin="round"/></g></g>
<path transform="translate(500.7,114.5)" d="M0,-9.5L11,9.5H-11Z" fill="none" stroke="#FF6629" stroke-width="4" stroke-linejoin="round"/>
<circle cx="500.7" cy="176" r="11" fill="none" stroke="#006666" stroke-width="4"/>
<path transform="translate(500.2,238.5)" d="M-13,0H13M0,-13V13" fill="none" stroke="#0000FF" stroke-width="3"/>
<g transform="translate(500.7,300)"><g transform="scale(1.02)"><path d="M0.00,-11.70L3.12,-4.29L11.13,-3.62L5.04,1.64L6.88,9.47L0.00,5.30L-6.88,9.47L-5.04,1.64L-11.13,-3.62L-3.12,-4.29ZM0.00,2.20L-2.09,0.68L-1.29,-1.78L1.29,-1.78L2.09,0.68Z" fill="#FF00FF" fill-rule="evenodd"/><path d="M0.00,-11.70L3.12,-4.29L11.13,-3.62L5.04,1.64L6.88,9.47L0.00,5.30L-6.88,9.47L-5.04,1.64L-11.13,-3.62L-3.12,-4.29Z" fill="none" stroke="#FF00FF" stroke-width="2.3" stroke-linejoin="round"/></g></g>
</g>
<g class="lg">
<text x="529.3" y="129.7" textLength="294.8" lengthAdjust="spacingAndGlyphs">465nm Sensor</text>
<text x="529.3" y="191.7" textLength="294.8" lengthAdjust="spacingAndGlyphs">550nm Sensor</text>
<text x="529.3" y="253.7" textLength="294.8" lengthAdjust="spacingAndGlyphs">650nm Sensor</text>
<text x="529.3" y="315.7" textLength="294.8" lengthAdjust="spacingAndGlyphs">860nm Sensor</text>
</g>
<g class="eq">
<text transform="translate(558,476.6) scale(0.997,1.03)">Y=0.0421X +0.0858</text>
<text transform="translate(560,526.6) scale(0.997,1.03)">R<tspan dy="-9.5">2</tspan><tspan dy="9.5"> = 0.9984</tspan></text>
<text transform="translate(1128,437.5) scale(0.997,1.03)">Y=0.0288X+0.2335</text>
<text transform="translate(1130,487.7) scale(0.997,1.03)">R<tspan dy="-9.5">2</tspan><tspan dy="9.5">=0.9979</tspan></text>
<text transform="translate(1242,732.8) scale(0.997,1.03)">Y=0.0266X+0.2181</text>
<text transform="translate(1243,783.5) scale(0.997,1.03)">R<tspan dy="-9.5">2</tspan><tspan dy="9.5">=0.993</tspan></text>
<text transform="translate(1232,1277.6) scale(0.997,1.03)">Y=0.0079X+0.044</text>
<text transform="translate(1233,1327.9) scale(0.997,1.03)">R<tspan dy="-9.5">2</tspan><tspan dy="9.5">=0.9966</tspan></text>
</g>
<g class="xt">
<text class="ti" transform="translate(595.4,1554.5) scale(0.996,1.04)">CNR4 Measurement</text>
<text transform="translate(997.98,1554.09) scale(0.825,0.927)" style='font-family:"Liberation Serif","Noto Serif CJK SC",serif;font-size:44px'>（</text>
<text transform="translate(1034.30,1552.81) scale(0.507,0.990)" style='font-family:"Liberation Serif","Noto Serif CJK SC",serif;font-size:44px'>W</text>
<text transform="translate(1057.84,1556.63) skewX(-5.48) scale(1.229)" style='font-family:"Liberation Serif","Noto Serif CJK SC",serif;font-size:44px'>/</text>
<text transform="translate(1076.36,1553.20) scale(0.639,0.933)" style='font-family:"Liberation Serif","Noto Serif CJK SC",serif;font-size:44px'>m</text>
<text transform="translate(1099.34,1543.30) scale(0.928,1.014)" style='font-family:"Liberation Serif","Noto Serif CJK SC",serif;font-size:44px'>2</text>
<text transform="translate(1118.65,1554.09) scale(0.983,0.927)" style='font-family:"Liberation Serif","Noto Serif CJK SC",serif;font-size:44px'>）</text>
</g>
<g class="yt">
<text class="ti" transform="translate(68.6,1174.2) rotate(-90) scale(0.996,1.04)">Sprctral Albedometer Measurement</text>
<text transform="translate(65.88,455.15) rotate(-90) scale(0.950,0.780)" style='font-family:"Liberation Serif","Noto Serif CJK SC",serif;font-size:44px'>（</text>
<text transform="translate(67.31,407.90) rotate(-90) scale(0.446,0.980)" style='font-family:"Liberation Serif","Noto Serif CJK SC",serif;font-size:44px'>W</text>
<text transform="translate(70.43,385.77) rotate(-90) skewX(-4.37) scale(1.222)" style='font-family:"Liberation Serif","Noto Serif CJK SC",serif;font-size:44px'>/</text>
<text transform="translate(67.70,366.70) rotate(-90) scale(0.600,0.905)" style='font-family:"Liberation Serif","Noto Serif CJK SC",serif;font-size:44px'>m</text>
<text transform="translate(57.90,344.36) rotate(-90) scale(0.928,0.997)" style='font-family:"Liberation Serif","Noto Serif CJK SC",serif;font-size:44px'>2</text>
<text transform="translate(65.88,318.75) rotate(-90) scale(0.917,0.780)" style='font-family:"Liberation Serif","Noto Serif CJK SC",serif;font-size:44px'>）</text>
</g>
</svg></body></html>
